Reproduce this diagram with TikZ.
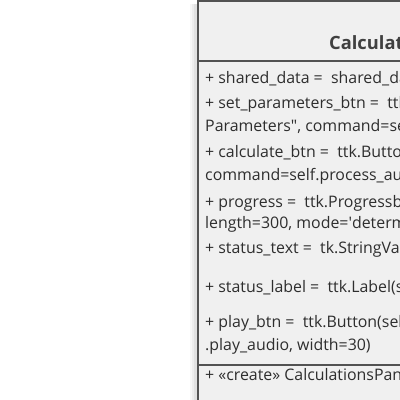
\documentclass[tikz,border=0pt]{standalone}
\usepackage{fontspec}
\setmainfont{Open Sans}
\tikzset{
  umlbox/.style={draw=black!68, line width=2pt, fill=gray!12},
  umlline/.style={draw=black!68, line width=2pt},
  member/.style={anchor=base west, inner sep=0pt, font=\fontsize{15.9}{18}\selectfont, text=black!82},
  classname/.style={anchor=base west, inner sep=0pt, font=\fontsize{18.3}{21}\selectfont\bfseries, text=black!75}
}
\begin{document}
\begin{tikzpicture}[x=1pt,y=-1pt]
\useasboundingbox (0,0) rectangle (400,400);
\clip (0,0) rectangle (400,400);
% soft shadow left of the class box
\foreach \w/\op in {7/0.03,5/0.04,3/0.05}
  \fill[black, opacity=\op] (197-\w,4) rectangle (197,430);
\draw[umlbox] (198,1) rectangle (440,440);
\draw[umlline] (198,61) -- (440,61);
\draw[umlline] (198,365) -- (440,365);
\node[classname] (title) at (329,49) {CalculationsPanel};
% attributes
\node[member] (shared) at (205,83) {+ shared\_data = \ shared\_data};
\node[member] (setbtn) at (205,108) {+ set\_parameters\_btn = \ ttk.Button(self, text=\textquotedbl Set};
\node[member] (setbtnb) at (205,131) {Parameters\textquotedbl, command=self.set\_parameters)};
\node[member] (calcbtn) at (205,157) {+ calculate\_btn = \ ttk.Button(self, text=\textquotedbl Calculate\textquotedbl,};
\node[member] (calcbtnb) at (205,180) {command=self.process\_audio, width=30)};
\node[member] (progress) at (205,207) {+ progress = \ ttk.Progressbar(self, orient=HORIZONTAL,};
\node[member] (progressb) at (205,228) {length=300, mode=\textquotesingle determinate\textquotesingle)};
\node[member] (stattext) at (205,253) {+ status\_text = \ tk.StringVar()};
\node[member] (statlabel) at (205,292) {+ status\_label = \ ttk.Label(self, textvariable=self};
\node[member] (playbtn) at (205,327) {+ play\_btn = \ ttk.Button(self, text=\textquotedbl Play\textquotedbl, command=self};
\node[member] (playbtnb) at (205,350) {.play\_audio, width=30)};
% operations
\node[member] (create) at (205,380) {+ «create» CalculationsPanel(parent, shared\_data)};
\end{tikzpicture}
\end{document}
